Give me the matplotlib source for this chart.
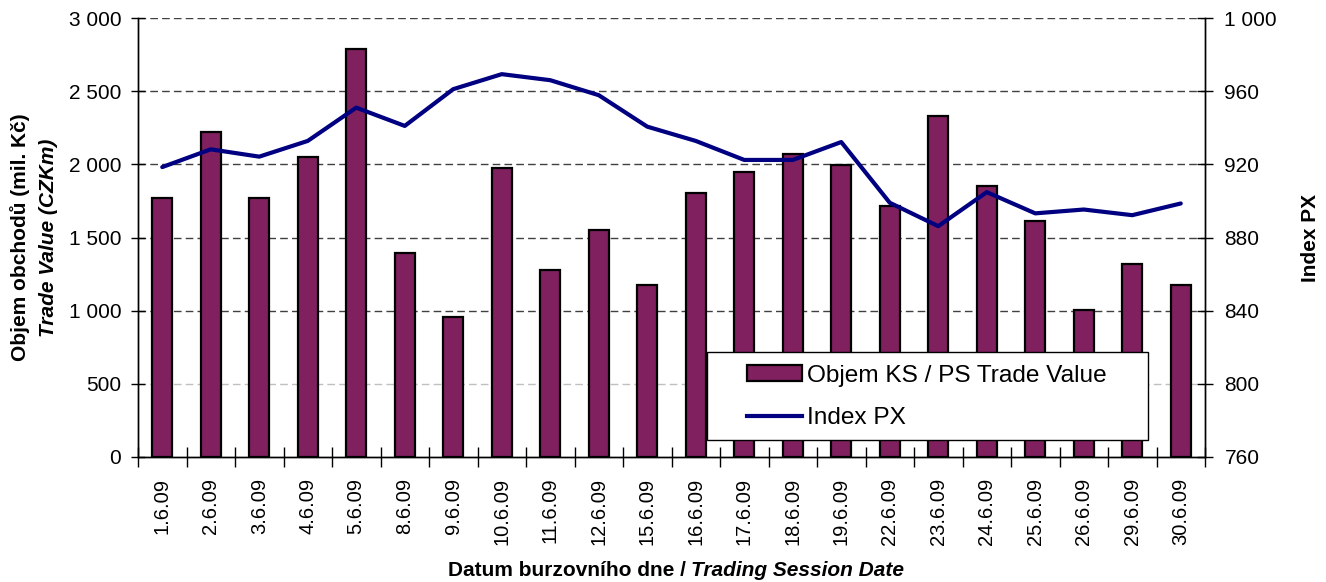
import matplotlib
matplotlib.use("Agg")
import matplotlib.pyplot as plt
from matplotlib.patches import Patch, Rectangle
from matplotlib.lines import Line2D
from matplotlib.offsetbox import TextArea, HPacker, AnnotationBbox
from matplotlib.ticker import FuncFormatter, FixedLocator

plt.rcParams['font.family'] = ['Liberation Sans', 'DejaVu Sans']
plt.rcParams['lines.scale_dashes'] = False

dates = ["1.6.09", "2.6.09", "3.6.09", "4.6.09", "5.6.09", "8.6.09", "9.6.09",
         "10.6.09", "11.6.09", "12.6.09", "15.6.09", "16.6.09", "17.6.09",
         "18.6.09", "19.6.09", "22.6.09", "23.6.09", "24.6.09", "25.6.09",
         "26.6.09", "29.6.09", "30.6.09"]
trade_value = [1772, 2221, 1769, 2047, 2785, 1395, 954, 1977, 1276, 1550, 1173,
               1801, 1950, 2071, 1995, 1712, 2327, 1849, 1616, 1007, 1322, 1178]
index_px = [918.5, 928.2, 924.2, 932.8, 951.0, 941.0, 961.1, 969.3, 966.0,
            957.8, 940.6, 932.8, 922.4, 922.4, 932.2, 899.0, 886.2, 904.8,
            893.2, 895.3, 892.2, 898.6]
left_ticks = [0, 500, 1000, 1500, 2000, 2500, 3000]
right_ticks = [760, 800, 840, 880, 920, 960, 1000]

bar_label = "Objem KS / PS Trade Value"
line_label = "Index PX"
bar_color = "#80205F"
line_color = "#000080"

W, H = 1326, 582
fig = plt.figure(figsize=(W / 100, H / 100), dpi=100)
L, R, T, B = 138, 1205, 18, 457
ax = fig.add_axes([L / W, 1 - B / H, (R - L) / W, (B - T) / H])
ax2 = ax.twinx()

n = len(dates)
x = list(range(n))

ax.set_xlim(-0.5, n - 0.5)
ax.set_ylim(left_ticks[0], left_ticks[-1])
ax2.set_ylim(right_ticks[0], right_ticks[-1])

# grid lines
for v in left_ticks[1:]:
    col = "#c0c0c0" if v == 500 else "#404040"
    ax.axhline(v, color=col, lw=1.0, ls=(0, (5.5, 3.0)), zorder=1)

ax.bar(x, trade_value, width=0.42, color=bar_color, edgecolor="black",
       linewidth=1.6, zorder=2)
ax2.plot(x, index_px, color=line_color, lw=3.0, solid_capstyle="round",
         solid_joinstyle="round", zorder=3)

fmt = FuncFormatter(lambda v, p: f"{int(v):,}".replace(",", " "))
ax.yaxis.set_major_locator(FixedLocator(left_ticks))
ax.yaxis.set_major_formatter(fmt)
ax2.yaxis.set_major_locator(FixedLocator(right_ticks))
ax2.yaxis.set_major_formatter(fmt)

ax.set_xticks(x)
ax.set_xticklabels(dates, rotation=90, fontsize=14.5)
ax.set_xticks([i + 0.5 for i in range(-1, n)], minor=True)
ax.tick_params(axis="x", which="major", length=0, pad=15)
ax.tick_params(axis="x", which="minor", direction="inout", length=14, width=1)
ax.tick_params(axis="y", direction="inout", length=10, width=1, pad=7,
               labelsize=15)
ax2.tick_params(axis="y", direction="inout", length=12, width=1, pad=8,
                labelsize=15)

for a in (ax, ax2):
    a.spines["top"].set_visible(False)
    for s in ("left", "right", "bottom"):
        a.spines[s].set_linewidth(1.0)
        a.spines[s].set_color("black")
ax2.patch.set_visible(False)

# axis titles
fig.text(20 / W, 1 - 237.5 / H, "Objem obchodů (mil. Kč)", rotation=90,
         ha="center", va="center", fontsize=15, fontweight="bold")
fig.text(48 / W, 1 - 237.5 / H, "Trade Value (CZKm)", rotation=90,
         ha="center", va="center", fontsize=15, fontweight="bold",
         fontstyle="italic")
fig.text(1310 / W, 1 - 237.5 / H, "Index PX", rotation=90,
         ha="center", va="center", fontsize=15, fontweight="bold")

t1 = TextArea("Datum burzovního dne / ",
              textprops=dict(fontsize=15, fontweight="bold"))
t2 = TextArea("Trading Session Date",
              textprops=dict(fontsize=15, fontweight="bold",
                             fontstyle="italic"))
pack = HPacker(children=[t1, t2], sep=0, pad=0, align="baseline")
ab = AnnotationBbox(pack, (676 / W, 1 - 571 / H),
                    xycoords="figure fraction", frameon=False,
                    box_alignment=(0.5, 0.5))
fig.add_artist(ab)

# legend
frame = Rectangle((707 / W, 1 - 440 / H), (1148 - 707) / W, 88 / H,
                  transform=fig.transFigure, facecolor="white",
                  edgecolor="black", lw=1.0, zorder=3)
fig.patches.append(frame)
handles = [Patch(facecolor=bar_color, edgecolor="black", linewidth=1.6),
           Line2D([], [], color=line_color, lw=3.0)]
leg = fig.legend(handles, [bar_label, line_label], loc="upper left",
                 bbox_to_anchor=(747 / W, 1 - 365 / H), frameon=False,
                 fontsize=17.6, handlelength=2.25, handleheight=0.62,
                 handletextpad=0.2, borderpad=0, labelspacing=0.82,
                 borderaxespad=0)
leg.set_zorder(5)

fig.savefig("out.png", dpi=100)
